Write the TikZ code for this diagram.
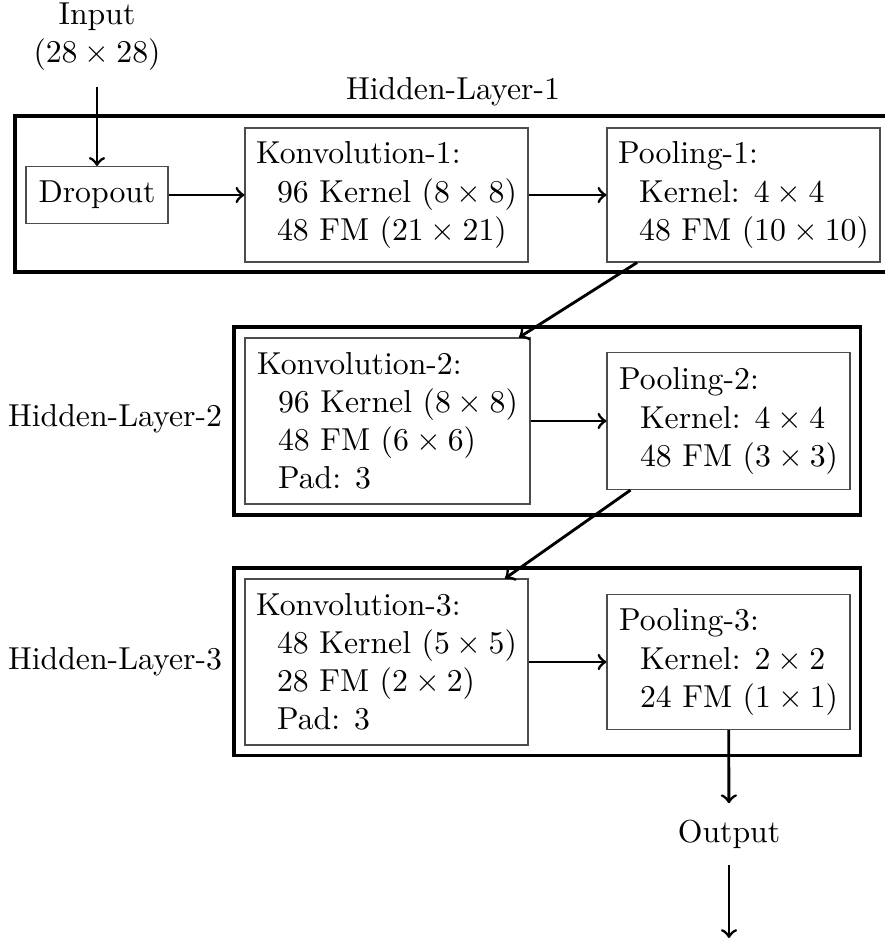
\documentclass[tikz,border=0pt]{standalone}
\begin{document}
\begin{tikzpicture}[x=0.315pt,y=-0.315pt,
  sz/.style 2 args={minimum width=#1*0.315pt, minimum height=#2*0.315pt},
  box/.style={draw=black!70, line width=0.35pt, align=left, inner sep=0pt},
  outer/.style={draw, line width=0.95pt, inner sep=0pt},
  lbl/.style={align=center, inner sep=5pt},
  arr/.style={->, line width=0.9pt}]
\useasboundingbox (0,0) rectangle (884,939);
% outer layer frames
\node[outer, sz={885}{156}] (L1) at (457.5,194) {};
\node[outer, sz={626}{188}] (L2) at (547,421) {};
\node[outer, sz={626}{187}] (L3) at (547,661.5) {};
% labels
\node[lbl] (input) at (97,37) {Input\\$(28\times 28)$};
\node[lbl] (hl1) at (453,92) {Hidden-Layer-1};
\node[lbl] (hl2) at (115,419) {Hidden-Layer-2};
\node[lbl] (hl3) at (115,662) {Hidden-Layer-3};
\node[lbl] (output) at (729,834) {Output};
\coordinate (end) at (729,938);
% inner boxes
\node[box, sz={142}{57}] (dropout) at (97,195) {Dropout};
\node[box, sz={283}{134}] (konv1) at (386.5,195) {Konvolution-1:\\\hspace*{6.6pt}96 Kernel ($8\times 8$)\\\hspace*{6.6pt}48 FM ($21\times 21$)};
\node[box, sz={273}{134}] (pool1) at (743.5,195) {Pooling-1:\\\hspace*{6.6pt}Kernel: $4\times 4$\\\hspace*{6.6pt}48 FM ($10\times 10$)};
\node[box, sz={285}{166}] (konv2) at (387.5,421) {Konvolution-2:\\\hspace*{6.6pt}96 Kernel ($8\times 8$)\\\hspace*{6.6pt}48 FM ($6\times 6$)\\\hspace*{6.6pt}Pad: 3};
\node[box, sz={243}{137}] (pool2) at (728.5,421) {Pooling-2:\\\hspace*{6.6pt}Kernel: $4\times 4$\\\hspace*{6.6pt}48 FM ($3\times 3$)};
\node[box, sz={283}{166}] (konv3) at (386.5,662) {Konvolution-3:\\\hspace*{6.6pt}48 Kernel ($5\times 5$)\\\hspace*{6.6pt}28 FM ($2\times 2$)\\\hspace*{6.6pt}Pad: 3};
\node[box, sz={243}{135}] (pool3) at (728.5,662) {Pooling-3:\\\hspace*{6.6pt}Kernel: $2\times 2$\\\hspace*{6.6pt}24 FM ($1\times 1$)};
% connectors
\draw[arr] (input) -- (dropout);
\draw[arr] (dropout) -- (konv1);
\draw[arr] (konv1) -- (pool1);
\draw[arr] (pool1) -- (konv2);
\draw[arr] (konv2) -- (pool2);
\draw[arr] (pool2) -- (konv3);
\draw[arr] (konv3) -- (pool3);
\draw[arr] (pool3) -- (output);
\draw[arr] (output) -- (end);
\end{tikzpicture}
\end{document}
